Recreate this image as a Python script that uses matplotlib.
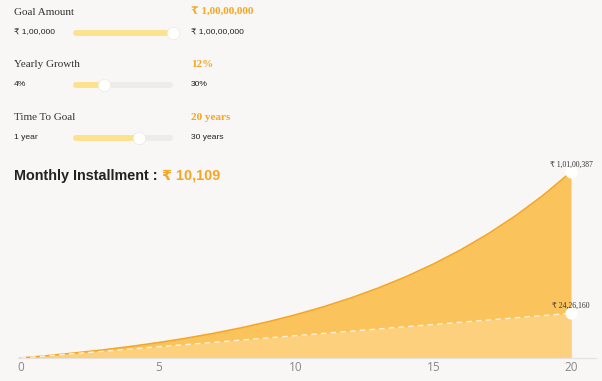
import matplotlib
matplotlib.use("Agg")
import matplotlib.pyplot as plt

# ---- data ----
years = list(range(0, 21))
total_value = [0, 129489, 275401, 439818, 625088, 833855, 1069097, 1334175,
               1632876, 1969450, 2348717, 2776083, 3257645, 3800286, 4411750,
               5100761, 5877150, 6752011, 7737823, 8848666, 10100387]
invested = [0, 121308, 242616, 363924, 485232, 606540, 727848, 849156,
            970464, 1091772, 1213080, 1334388, 1455696, 1577004, 1698312,
            1819620, 1940928, 2062236, 2183544, 2304852, 2426160]
x_ticks = [0, 5, 10, 15, 20]

slider_titles = ["Goal Amount", "Yearly Growth", "Time To Goal"]
slider_values_text = ["₹ 1,00,00,000", "12%", "20 years"]
slider_min_text = ["₹ 1,00,000", "4%", "1 year"]
slider_max_text = ["₹ 1,00,00,000", "30%", "30 years"]
slider_min = [100000, 4, 1]
slider_max = [10000000, 30, 30]
slider_val = [10000000, 12, 20]

installment_label = "Monthly Installment : "
installment_value = "₹ 10,109"
end_total_label = "₹ 1,01,00,387"
end_invested_label = "₹ 24,26,160"

# ---- style ----
BG = "#f8f7f5"
ORANGE = "#f5a623"
W, H = 602, 381
fig = plt.figure(figsize=(W / 100, H / 100), dpi=100, facecolor=BG)

SERIF = ["Liberation Serif", "DejaVu Serif", "DejaVu Sans"]
SANS = ["Liberation Sans", "DejaVu Sans"]

# overlay axes in pixel coordinates for the controls
ov = fig.add_axes([0, 0, 1, 1], facecolor="none")
ov.set_xlim(0, W)
ov.set_ylim(H, 0)
ov.axis("off")

title_y = [12.5, 64.5, 117]
row_y = [32.5, 84.5, 137.5]
tx0, tx1 = 73, 173
cap = 3
for i in range(3):
    ov.text(14, title_y[i], slider_titles[i], family=SERIF, fontsize=8,
            color="#333333", va="center", ha="left")
    ov.text(191, title_y[i], slider_values_text[i], family=SERIF, fontsize=8,
            color=ORANGE, fontweight="bold", va="center", ha="left")
    ov.text(14, row_y[i], slider_min_text[i], family=SANS, fontsize=6.1,
            color="#222222", va="center", ha="left")
    ov.text(191, row_y[i], slider_max_text[i], family=SANS, fontsize=6.1,
            color="#222222", va="center", ha="left")
    frac = (slider_val[i] - slider_min[i]) / (slider_max[i] - slider_min[i])
    kx = tx0 + frac * (tx1 - tx0)
    ov.plot([tx0 + cap, tx1 - cap], [row_y[i], row_y[i]], color="#eeece9", lw=4.2,
            solid_capstyle="round", zorder=2)
    ov.plot([tx0 + cap, kx], [row_y[i], row_y[i]], color="#fde28e", lw=4.2,
            solid_capstyle="round", zorder=3)
    ov.scatter([kx], [row_y[i]], s=80, color="white", edgecolor="#ebe9e6",
               linewidth=0.5, zorder=4)

t1 = ov.text(14, 176, installment_label, family=SANS, fontsize=10.4,
             fontweight="bold", color="#222222", va="center", ha="left")
fig.canvas.draw()
bb = t1.get_window_extent()
ov.text(bb.x1, 176, installment_value, family=SANS, fontsize=10.4,
        fontweight="bold", color=ORANGE, va="center", ha="left")

# ---- chart axes ----
left_px, right_px = 18, 596
bottom_px, top_px = 358, 160
ax = fig.add_axes([left_px / W, (H - bottom_px) / H, (right_px - left_px) / W,
                   (bottom_px - top_px) / H], facecolor="none")
ppu = (571 - 20.5) / 20.0
ax.set_xlim(-(20.5 - left_px) / ppu, 20 + (right_px - 571) / ppu)
ymax = 10100387 / ((358 - 172) / (358 - 160))
ax.set_ylim(0, ymax)

ax.fill_between(years, 0, total_value, color="#fbc35c", lw=0, zorder=1)
ax.fill_between(years, 0, invested, color="#fdd07e", lw=0, zorder=2)
ax.plot(years, total_value, color=ORANGE, lw=1.2, zorder=3)
ax.plot(years, invested, color="#fff3dc", lw=1.0, dashes=(4, 3), zorder=3)
ax.scatter([years[-1], years[-1]], [total_value[-1], invested[-1]], s=60,
           color="white", zorder=5, clip_on=False)
ax.annotate(end_total_label, (years[-1], total_value[-1]), xytext=(0, 2.5),
            textcoords="offset points", ha="center", va="bottom",
            family=SERIF, fontsize=5.5, color="#333333", zorder=6)
ax.annotate(end_invested_label, (years[-1], invested[-1]), xytext=(0, 2.5),
            textcoords="offset points", ha="center", va="bottom",
            family=SERIF, fontsize=5.5, color="#333333", zorder=6)

for s in ["top", "right", "left"]:
    ax.spines[s].set_visible(False)
ax.spines["bottom"].set_color("#e4e2df")
ax.spines["bottom"].set_linewidth(0.8)
ax.set_yticks([])
ax.set_xticks(x_ticks)
ax.tick_params(axis="x", length=0, pad=2, labelsize=8.5, labelcolor="#888888")
for lab in ax.get_xticklabels():
    lab.set_family(["Open Sans", "DejaVu Sans"])

fig.savefig("out.png", dpi=100, facecolor=BG)
